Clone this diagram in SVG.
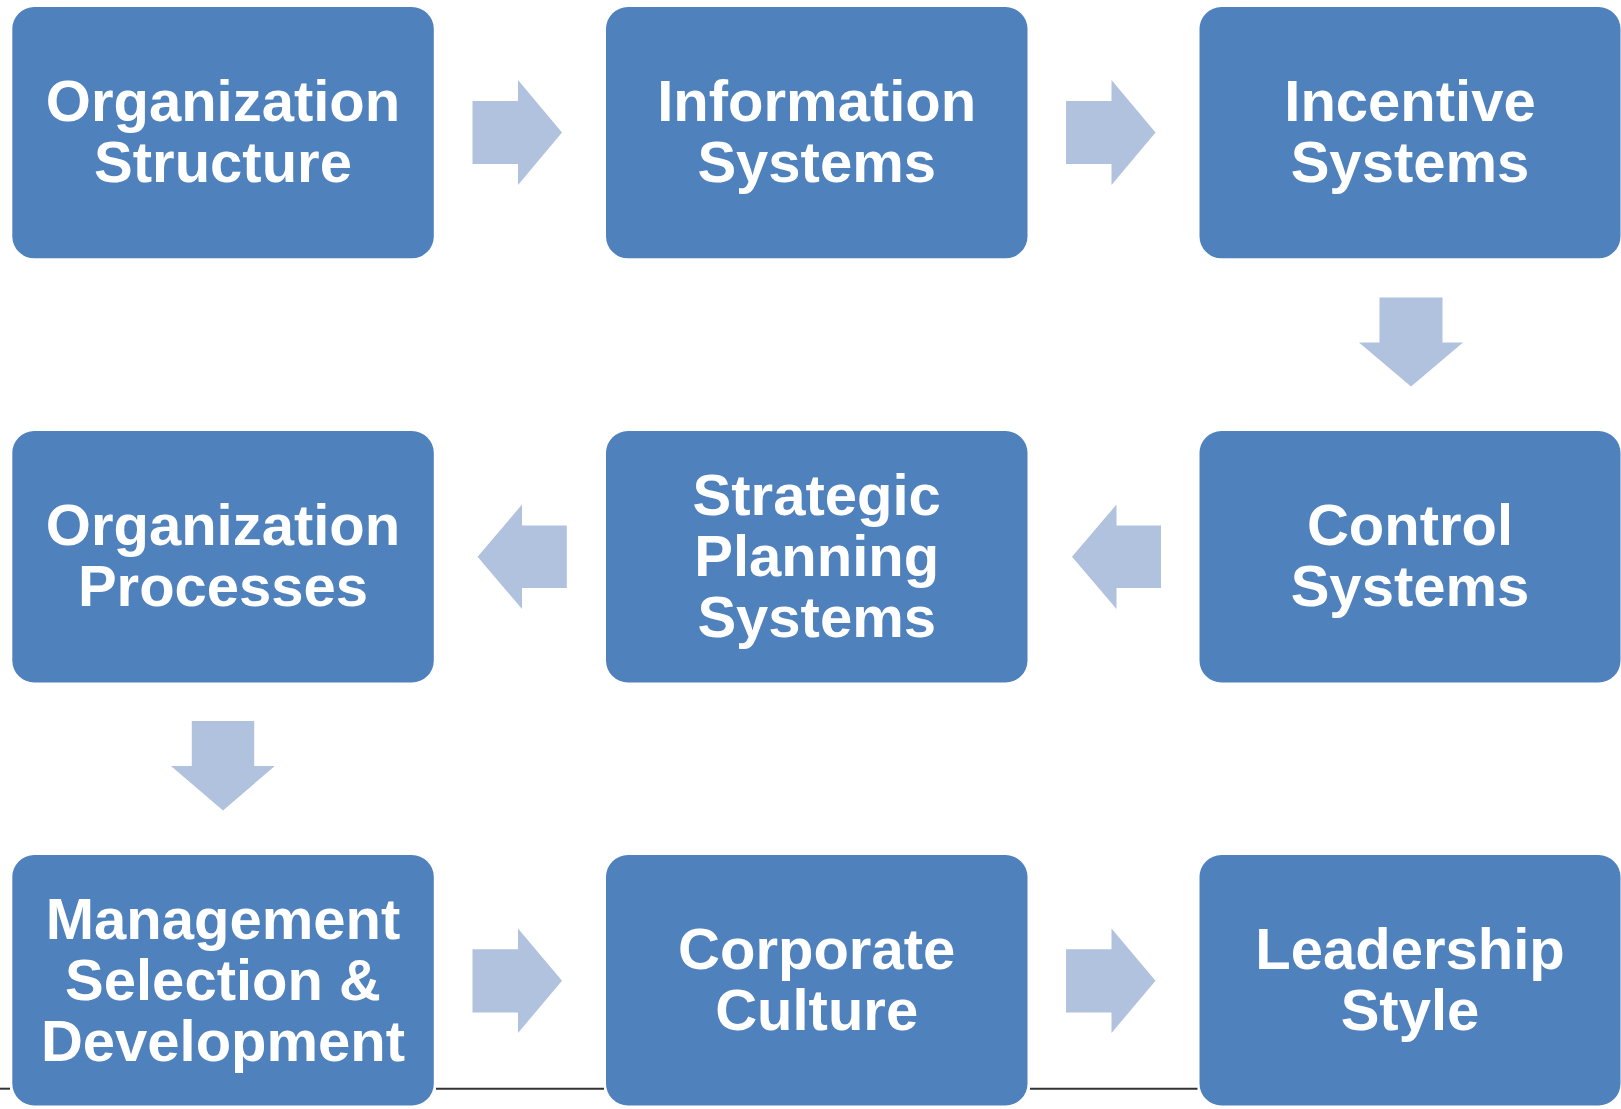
<svg xmlns="http://www.w3.org/2000/svg" width="1621" height="1109" viewBox="0 0 1621 1109">
<style>
.box{fill:#4F81BD;}
.arr{fill:#B0C2DD;}
.rule{stroke:#333333;stroke-width:2;}
.t{fill:#FFFFFF;font-family:"Liberation Sans",Arial,sans-serif;font-weight:bold;font-size:58px;text-anchor:middle;}
</style>
<rect x="0" y="0" width="1621" height="1109" fill="#FFFFFF"/>
<line class="rule" x1="0" y1="1088.7" x2="10" y2="1088.7"/>
<line class="rule" x1="436" y1="1088.7" x2="604" y2="1088.7"/>
<line class="rule" x1="1030" y1="1088.7" x2="1197.5" y2="1088.7"/>
<g id="connectors">
<polygon class="arr" points="472.5,101 518,101 518,80 562,132.5 518,185 518,164 472.5,164"/>
<polygon class="arr" points="1066,101 1111.5,101 1111.5,80 1155.5,132.5 1111.5,185 1111.5,164 1066,164"/>
<polygon class="arr" points="1379.5,297.5 1442.5,297.5 1442.5,342.5 1463,342.5 1411,386.5 1359,342.5 1379.5,342.5"/>
<polygon class="arr" points="1161,525.5 1116.5,525.5 1116.5,504.5 1072,556.8 1116.5,609 1116.5,588 1161,588"/>
<polygon class="arr" points="566.8,525.5 522,525.5 522,504.5 477.6,556.8 522,609 522,588 566.8,588"/>
<polygon class="arr" points="191.8,721 254.2,721 254.2,766 274.8,766 223,810.5 171,766 191.8,766"/>
<polygon class="arr" points="472.5,949.3 518,949.3 518,928.5 562,980.8 518,1033 518,1012.5 472.5,1012.5"/>
<polygon class="arr" points="1066,949.3 1111.5,949.3 1111.5,928.5 1155.5,980.8 1111.5,1033 1111.5,1012.5 1066,1012.5"/>
</g>
<g id="node-organization-structure">
<rect class="box" x="12.3" y="7" width="421.5" height="251.3" rx="22"/>
<text class="t" x="223" y="121">Organization</text>
<text class="t" x="223" y="182">Structure</text>
</g>
<g id="node-information-systems">
<rect class="box" x="606" y="7" width="421.5" height="251.3" rx="22"/>
<text class="t" x="816.7" y="121">Information</text>
<text class="t" x="816.7" y="182">Systems</text>
</g>
<g id="node-incentive-systems">
<rect class="box" x="1199.5" y="7" width="421" height="251.3" rx="22"/>
<text class="t" x="1410" y="121">Incentive</text>
<text class="t" x="1410" y="182">Systems</text>
</g>
<g id="node-control-systems">
<rect class="box" x="1199.5" y="431" width="421" height="251.5" rx="22"/>
<text class="t" x="1410" y="545.3">Control</text>
<text class="t" x="1410" y="606.3">Systems</text>
</g>
<g id="node-strategic-planning-systems">
<rect class="box" x="606" y="431" width="421.5" height="251.5" rx="22"/>
<text class="t" x="816.7" y="514.8">Strategic</text>
<text class="t" x="816.7" y="575.8">Planning</text>
<text class="t" x="816.7" y="636.8">Systems</text>
</g>
<g id="node-organization-processes">
<rect class="box" x="12.3" y="431" width="421.5" height="251.5" rx="22"/>
<text class="t" x="223" y="545.3">Organization</text>
<text class="t" x="223" y="606.3">Processes</text>
</g>
<g id="node-management-selection-development">
<rect class="box" x="12.3" y="855" width="421.5" height="250.5" rx="22"/>
<text class="t" x="223" y="938.5">Management</text>
<text class="t" x="223" y="999.7">Selection &amp;</text>
<text class="t" x="223" y="1060.9">Development</text>
</g>
<g id="node-corporate-culture">
<rect class="box" x="606" y="855" width="421.5" height="250.5" rx="22"/>
<text class="t" x="816.7" y="969.3">Corporate</text>
<text class="t" x="816.7" y="1030.3">Culture</text>
</g>
<g id="node-leadership-style">
<rect class="box" x="1199.5" y="855" width="421" height="250.5" rx="22"/>
<text class="t" x="1410" y="969.3">Leadership</text>
<text class="t" x="1410" y="1030.3">Style</text>
</g>
</svg>
